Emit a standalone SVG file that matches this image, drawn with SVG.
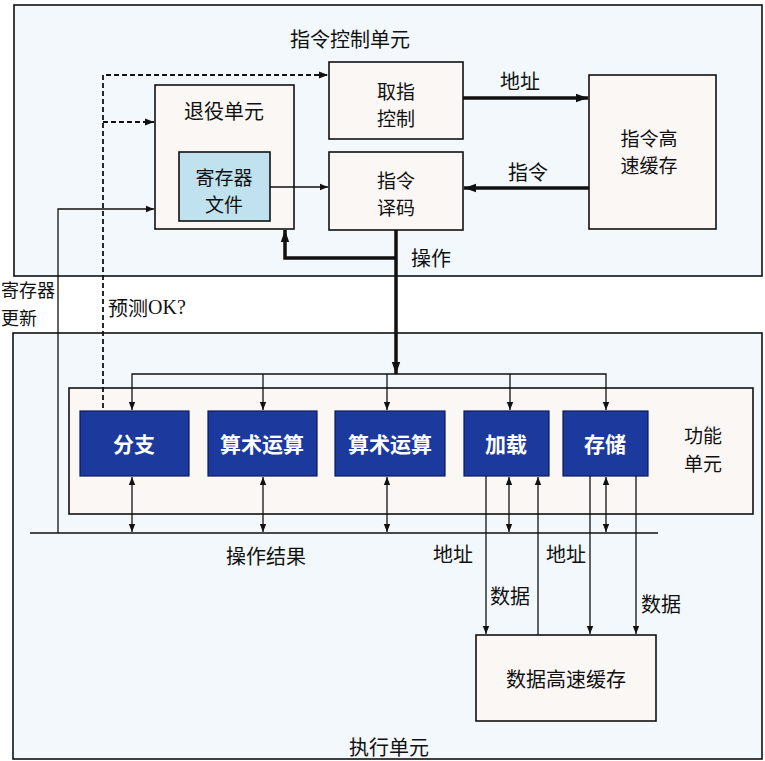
<svg xmlns="http://www.w3.org/2000/svg" width="765" height="761" viewBox="0 0 765 761">
<defs>
<style>
text{font-family:"Noto Sans CJK SC","Noto Sans",sans-serif;fill:#111;dominant-baseline:central}
.t{font-size:20px;text-anchor:middle}
.m{font-size:19px;text-anchor:middle}
.w{font-size:21px;text-anchor:middle;fill:#fff;font-weight:bold}
.unit{fill:#f2f8fb;stroke:#111;stroke-width:1.6}
.box{fill:#fbf7f5;stroke:#111;stroke-width:1.6}
.fu{fill:#1c3a9e;stroke:#0a1a5a;stroke-width:1.2}
.reg{fill:#bfe2ee;stroke:#111;stroke-width:1.6}
.thin{fill:none;stroke:#111;stroke-width:1.3}
.thick{fill:none;stroke:#111;stroke-width:3.5}
.dash{fill:none;stroke:#111;stroke-width:1.8;stroke-dasharray:5 3}
</style>
<marker id="a" viewBox="0 0 10 10" refX="10" refY="5" markerWidth="8" markerHeight="8" markerUnits="userSpaceOnUse" orient="auto-start-reverse"><path d="M0,1 L10,5 L0,9 Z" fill="#111"/></marker>
<marker id="ad" viewBox="0 0 10 10" refX="10" refY="5" markerWidth="9" markerHeight="9" markerUnits="userSpaceOnUse" orient="auto"><path d="M0,1 L10,5 L0,9 Z" fill="#111"/></marker>
<marker id="A" viewBox="0 0 10 10" refX="10" refY="5" markerWidth="12" markerHeight="12" markerUnits="userSpaceOnUse" orient="auto"><path d="M0,1.5 L10,5 L0,8.5 Z" fill="#111"/></marker>
</defs>
<rect width="765" height="761" fill="#fff"/>

<g id="instruction-control-unit">
<rect class="unit" x="14" y="5" width="748" height="271"/>
<text class="t" x="350" y="38">指令控制单元</text>
</g>
<g id="execution-unit">
<rect class="unit" x="13" y="333" width="749" height="426"/>
<text class="t" x="389" y="746">执行单元</text>
</g>

<g id="retirement-unit">
<rect class="box" x="155" y="85" width="139" height="144"/>
<text class="t" x="224" y="110">退役单元</text>
</g>
<g id="register-file">
<rect class="reg" x="179" y="152" width="91" height="69"/>
<text class="m" x="224" y="176">寄存器</text>
<text class="m" x="224" y="203">文件</text>
</g>
<g id="fetch-control">
<rect class="box" x="329" y="62" width="134" height="77"/>
<text class="m" x="396" y="90">取指</text>
<text class="m" x="396" y="117">控制</text>
</g>
<g id="instruction-decode">
<rect class="box" x="329" y="152" width="134" height="78"/>
<text class="m" x="396" y="179">指令</text>
<text class="m" x="396" y="206">译码</text>
</g>
<g id="instruction-cache">
<rect class="box" x="589" y="75" width="127" height="154"/>
<text class="m" x="649" y="137">指令高</text>
<text class="m" x="649" y="164">速缓存</text>
</g>

<g id="functional-units">
<rect class="box" x="69" y="388" width="684" height="126"/>
<text class="m" x="703" y="434">功能</text>
<text class="m" x="703" y="462">单元</text>
</g>
<g id="branch"><rect class="fu" x="80" y="411" width="109" height="65"/><text class="w" x="134" y="443">分支</text></g>
<g id="arith1"><rect class="fu" x="208" y="411" width="109" height="65"/><text class="w" x="262" y="443">算术运算</text></g>
<g id="arith2"><rect class="fu" x="335" y="411" width="110" height="65"/><text class="w" x="390" y="443">算术运算</text></g>
<g id="load"><rect class="fu" x="464" y="411" width="85" height="65"/><text class="w" x="506" y="443">加载</text></g>
<g id="store"><rect class="fu" x="563" y="411" width="85" height="65"/><text class="w" x="605" y="443">存储</text></g>
<g id="data-cache">
<rect class="box" x="476" y="635" width="180" height="86"/>
<text class="t" x="566" y="678">数据高速缓存</text>
</g>

<g id="connectors">
<line class="thick" x1="463" y1="98" x2="588" y2="98" marker-end="url(#A)"/>
<line class="thick" x1="589" y1="188" x2="464" y2="188" marker-end="url(#A)"/>
<line class="thin" x1="270" y1="187" x2="328" y2="187" marker-end="url(#a)"/>
<line class="thick" x1="396" y1="230" x2="396" y2="374" marker-end="url(#A)"/>
<polyline class="thick" points="396,258 285,258 285,230" marker-end="url(#A)"/>
<polyline class="thin" points="132,410 132,374 606,374 606,410" marker-end="url(#a)" marker-start="url(#a)"/>
<line class="thin" x1="263" y1="374" x2="263" y2="410" marker-end="url(#a)"/>
<line class="thin" x1="387" y1="374" x2="387" y2="410" marker-end="url(#a)"/>
<line class="thin" x1="510" y1="374" x2="510" y2="410" marker-end="url(#a)"/>
<polyline class="dash" points="103,408 103,75 328,75" marker-end="url(#ad)"/>
<line class="dash" x1="103" y1="122" x2="154" y2="122" marker-end="url(#ad)"/>
<polyline class="thin" points="58,533 58,209 154,209" marker-end="url(#a)"/>
<line class="thin" x1="30" y1="533" x2="658" y2="533"/>
<line class="thin" x1="132" y1="477" x2="132" y2="532" marker-start="url(#a)" marker-end="url(#a)"/>
<line class="thin" x1="263" y1="477" x2="263" y2="532" marker-start="url(#a)" marker-end="url(#a)"/>
<line class="thin" x1="387" y1="477" x2="387" y2="532" marker-start="url(#a)" marker-end="url(#a)"/>
<line class="thin" x1="509" y1="477" x2="509" y2="532" marker-start="url(#a)" marker-end="url(#a)"/>
<line class="thin" x1="606" y1="477" x2="606" y2="532" marker-start="url(#a)" marker-end="url(#a)"/>
<line class="thin" x1="486" y1="476" x2="486" y2="634" marker-end="url(#a)"/>
<line class="thin" x1="538" y1="635" x2="538" y2="477" marker-end="url(#a)"/>
<line class="thin" x1="590" y1="476" x2="590" y2="634" marker-end="url(#a)"/>
<line class="thin" x1="636" y1="476" x2="636" y2="634" marker-end="url(#a)"/>
</g>

<g id="labels">
<text class="t" x="520" y="80">地址</text>
<text class="t" x="528" y="171">指令</text>
<text class="t" x="431" y="257">操作</text>
<text x="1" y="289" style="font-size:18px">寄存器</text>
<text x="1" y="317" style="font-size:18px">更新</text>
<text x="108" y="307" style="font-size:20px">预测<tspan style="font-family:'Liberation Serif',serif">OK?</tspan></text>
<text class="t" x="266" y="555">操作结果</text>
<text class="t" x="453" y="553">地址</text>
<text class="t" x="566" y="553">地址</text>
<text class="t" x="510" y="595">数据</text>
<text class="t" x="661" y="603">数据</text>
</g>
</svg>
